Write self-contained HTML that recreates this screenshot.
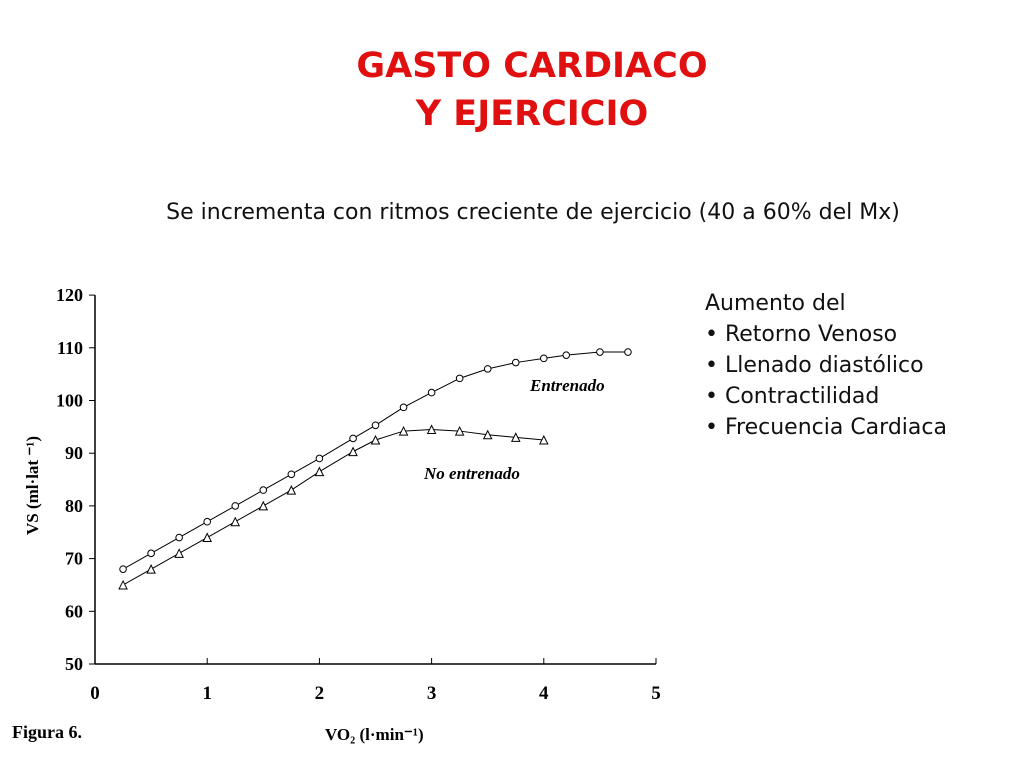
<!DOCTYPE html>
<html><head><meta charset="utf-8"><style>
body{margin:0;width:1024px;height:768px;background:#fff;overflow:hidden;position:relative;font-family:"DejaVu Sans",sans-serif}
.t{position:absolute;color:#e01010;font-weight:bold;font-size:35px;text-align:center;width:1024px;left:20px}
#sub{position:absolute;top:200px;left:0;width:1066px;text-align:center;font-size:22px;color:#111;white-space:nowrap}
#list{position:absolute;left:705px;top:288px;font-size:22px;line-height:31px;color:#111}
</style></head><body>
<div class="t" style="top:46px">GASTO CARDIACO</div>
<div class="t" style="top:94px">Y EJERCICIO</div>
<div id="sub">Se incrementa con ritmos creciente de ejercicio (40 a 60% del Mx)</div>
<div id="list">Aumento del<br>• Retorno Venoso<br>• Llenado diastólico<br>• Contractilidad<br>• Frecuencia Cardiaca</div>
<svg id="chart" width="1024" height="768" style="position:absolute;left:0;top:0"></svg>
<script>
const xTicks=[0,1,2,3,4,5];
const yTicks=[50,60,70,80,90,100,110,120];
const trainedX=[0.25,0.5,0.75,1,1.25,1.5,1.75,2,2.3,2.5,2.75,3,3.25,3.5,3.75,4,4.2,4.5,4.75];
const trainedY=[68,71,74,77,80,83,86,89,92.8,95.3,98.7,101.5,104.2,106,107.2,108,108.6,109.2,109.2];
const untrainedX=[0.25,0.5,0.75,1,1.25,1.5,1.75,2,2.3,2.5,2.75,3,3.25,3.5,3.75,4];
const untrainedY=[65,68,71,74,77,80,83,86.5,90.3,92.5,94.2,94.5,94.2,93.5,93,92.5];
const NS='http://www.w3.org/2000/svg';
const svg=document.getElementById('chart');
const sx=v=>95+v*112.2, sy=v=>664-(v-50)*5.27;
function mk(t,a){const e=document.createElementNS(NS,t);for(const k in a)e.setAttribute(k,a[k]);svg.appendChild(e);return e;}
const F='"Liberation Serif",serif';
let e=mk('line',{x1:95,y1:sy(120),x2:95,y2:664,stroke:'#000','stroke-width':1.5});


e=mk('line',{x1:95,y1:664,x2:sx(5),y2:664,stroke:'#000','stroke-width':1.5});


yTicks.forEach(v=>{mk('line',{x1:89,x2:95,y1:sy(v),y2:sy(v),stroke:'#000'});
 const t=mk('text',{x:83,y:sy(v)+6,'text-anchor':'end','font-family':F,'font-weight':'bold','font-size':18});t.textContent=v;
 
 });
xTicks.forEach(v=>{mk('line',{x1:sx(v),x2:sx(v),y1:664,y2:658,stroke:'#000'});
 const t=mk('text',{x:sx(v),y:699,'text-anchor':'middle','font-family':F,'font-weight':'bold','font-size':19});t.textContent=v;
 
 });
function series(xs,ys,name,tri){
 const p=mk('polyline',{points:xs.map((x,i)=>sx(x)+','+sy(ys[i])).join(' '),fill:'none',stroke:'#000','stroke-width':1});
 
 
 xs.forEach((x,i)=>{const cx=sx(x),cy=sy(ys[i]);let m;
  if(tri)m=mk('polygon',{points:`${cx-4},${cy+4} ${cx+4},${cy+4} ${cx},${cy-4}`,fill:'#fff',stroke:'#000'});
  else m=mk('circle',{cx:cx,cy:cy,r:3.3,fill:'#fff',stroke:'#000'});
  
  });
}
series(trainedX,trainedY,'trained',false);
series(untrainedX,untrainedY,'untrained',true);
function txt(s,x,y,sz,name,extra){const t=mk('text',Object.assign({x:x,y:y,'font-family':F,'font-weight':'bold','font-size':sz},extra||{}));t.textContent=s;
 
 return t;}
txt('Entrenado',530,391,17,'trained-label',{'font-style':'italic'});
txt('No entrenado',424,479,17,'untrained-label',{'font-style':'italic'});
txt('Figura 6.',12,738,18,'figure-caption');
txt('VO₂ (l·min⁻¹)',325,740,17,'x-axis-title');
txt('VS (ml·lat ⁻¹)',0,0,17,'y-axis-title',{transform:'translate(38,535) rotate(-90)'});
</script>
</body></html>
